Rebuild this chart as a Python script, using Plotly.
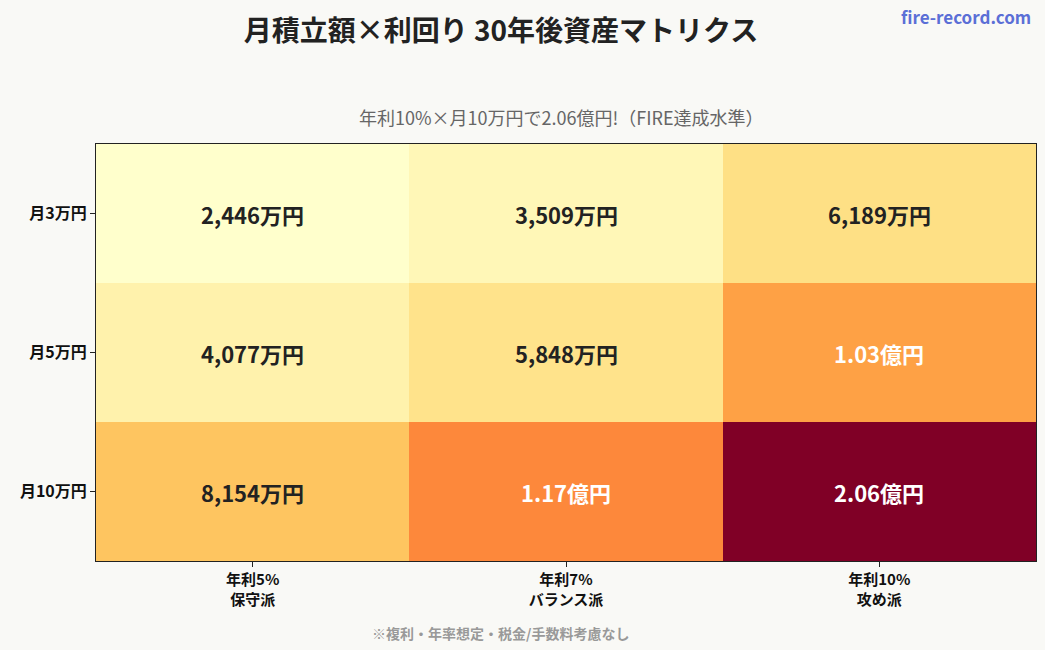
import plotly.graph_objects as go

rates = ["年利5%<br>保守派", "年利7%<br>バランス派", "年利10%<br>攻め派"]
monthly = ["月3万円", "月5万円", "月10万円"]
# values in 万円
vals_3 = [2446, 3509, 6189]
vals_5 = [4077, 5848, 10300]
vals_10 = [8154, 11700, 20600]
labels_3 = ["2,446万円", "3,509万円", "6,189万円"]
labels_5 = ["4,077万円", "5,848万円", "1.03億円"]
labels_10 = ["8,154万円", "1.17億円", "2.06億円"]

z = [vals_3, vals_5, vals_10]
text = [labels_3, labels_5, labels_10]

FONT = "Noto Sans CJK JP"
BG = "#f9f9f6"

fig = go.Figure(go.Heatmap(
    x=rates, y=monthly, z=z, colorscale="YlOrRd", showscale=False,
    xgap=0, ygap=0, hoverinfo="skip",
))

zmin = min(min(r) for r in z)
zmax = max(max(r) for r in z)
for i, row in enumerate(z):
    for j, v in enumerate(row):
        frac = (v - zmin) / (zmax - zmin)
        fig.add_annotation(
            x=rates[j], y=monthly[i], text=f"<b>{text[i][j]}</b>", showarrow=False,
            font=dict(family=FONT, size=22, color="#ffffff" if frac > 0.4 else "#222222"),
        )

fig.update_layout(
    width=1045, height=650,
    margin=dict(l=96, r=9, t=144, b=89),
    paper_bgcolor=BG, plot_bgcolor=BG,
    font=dict(family=FONT, color="#222222"),
    title=dict(text="<b>月積立額×利回り 30年後資産マトリクス</b>", x=501/1045, xanchor="center",
               y=1 - 31/650, yanchor="middle", font=dict(size=28, color="#222222", family=FONT)),
    xaxis=dict(showline=True, linecolor="#222222", linewidth=1, mirror=True, ticks="outside",
               ticklen=5, tickcolor="#222222", tickfont=dict(size=15, color="#111111", family=FONT)),
    yaxis=dict(showline=True, linecolor="#222222", linewidth=1, mirror=True, ticks="outside",
               ticklen=5, tickcolor="#222222", autorange="reversed",
               tickfont=dict(size=16, color="#111111", family=FONT)),
)
fig.update_xaxes(tickprefix="<b>", ticksuffix="</b>")
fig.update_yaxes(tickprefix="<b>", ticksuffix="</b>")

fig.add_annotation(xref="paper", yref="paper", x=(561 - 96) / 940, y=1 + (144 - 117) / 417, yanchor="middle",
                   text="年利10%×月10万円で2.06億円!（FIRE達成水準）", showarrow=False,
                   font=dict(size=18, color="#666666", family=FONT))
fig.add_annotation(xref="paper", yref="paper", x=(1033 - 96) / 940, xanchor="right",
                   y=1 + (144 - 16) / 417, yanchor="middle",
                   text="<b>fire-record.com</b>", showarrow=False,
                   font=dict(size=17, color="#5b6fd6", family=FONT))
fig.add_annotation(xref="paper", yref="paper", x=(500 - 96) / 940, xanchor="center",
                   y=-(633 - 561) / 417, yanchor="middle",
                   text="<b>※複利・年率想定・税金/手数料考慮なし</b>", showarrow=False,
                   font=dict(size=14, color="#999999", family=FONT))

fig.write_html("out.html")
